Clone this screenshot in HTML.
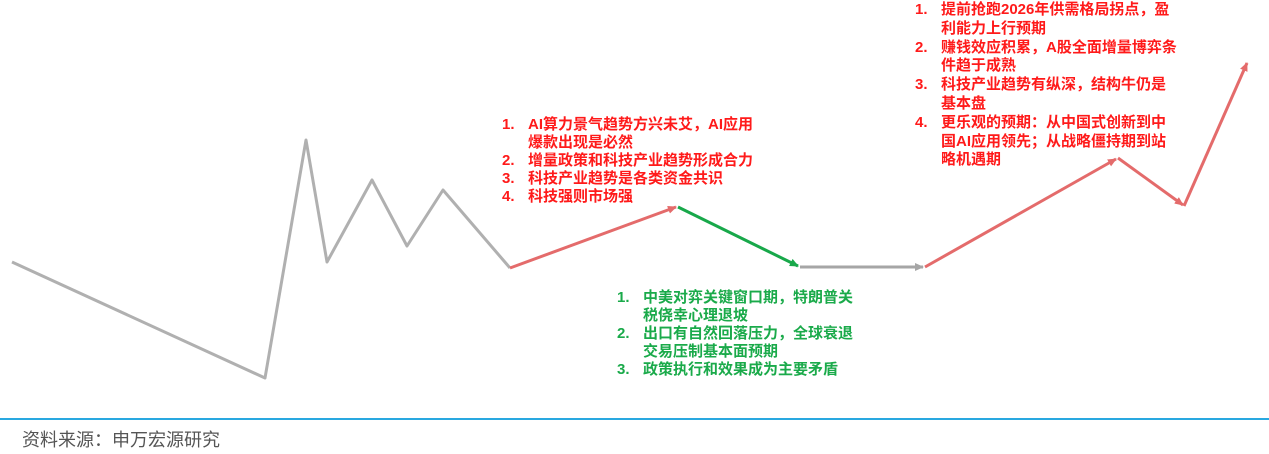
<!DOCTYPE html>
<html><head><meta charset="utf-8"><style>
html,body{margin:0;padding:0;background:#fff;}
body{width:1269px;height:454px;overflow:hidden;position:relative;font-family:"Liberation Sans","Noto Sans CJK SC",sans-serif;}
.blk{position:absolute;font-weight:bold;font-size:15px;line-height:18px;white-space:nowrap;}
.blk div{position:relative;padding-left:26px;}
.blk span{position:absolute;left:0;}
.r{color:#ff1a1a}.g{color:#1aaa4a}
</style></head><body>
<svg width="1269" height="454" style="position:absolute;left:0;top:0">
<defs>
<marker id="ar" markerWidth="10" markerHeight="10" refX="8" refY="5" orient="auto" markerUnits="userSpaceOnUse"><path d="M0,1 L9,5 L0,9 z" fill="#e46b6b"/></marker>
<marker id="ag" markerWidth="10" markerHeight="10" refX="8" refY="5" orient="auto" markerUnits="userSpaceOnUse"><path d="M0,1 L9,5 L0,9 z" fill="#18a84a"/></marker>
<marker id="ay" markerWidth="10" markerHeight="10" refX="8" refY="5" orient="auto" markerUnits="userSpaceOnUse"><path d="M0,1 L9,5 L0,9 z" fill="#a6a6a6"/></marker>
</defs>
<polyline points="12,262 265,378 306,140 327,262 372,180 407,246 443,190 510,268" fill="none" stroke="#b0b0b0" stroke-width="3" stroke-linejoin="round"/>
<line x1="510" y1="268" x2="676" y2="207" stroke="#e46b6b" stroke-width="3" marker-end="url(#ar)"/>
<line x1="678" y1="207" x2="798" y2="266" stroke="#18a84a" stroke-width="3" marker-end="url(#ag)"/>
<line x1="800" y1="267" x2="923" y2="267" stroke="#a6a6a6" stroke-width="3" marker-end="url(#ay)"/>
<line x1="925" y1="267" x2="1116" y2="159" stroke="#e46b6b" stroke-width="3" marker-end="url(#ar)"/>
<line x1="1118" y1="158" x2="1183" y2="205" stroke="#e46b6b" stroke-width="3" marker-end="url(#ar)"/>
<line x1="1184" y1="206" x2="1247" y2="63" stroke="#e46b6b" stroke-width="3" marker-end="url(#ar)"/>
<line x1="0" y1="419" x2="1269" y2="419" stroke="#29a8e0" stroke-width="2"/>
</svg>
<div class="blk r" style="left:502px;top:116px;">
<div><span>1.</span>AI算力景气趋势方兴未艾，AI应用<br>爆款出现是必然</div>
<div><span>2.</span>增量政策和科技产业趋势形成合力</div>
<div><span>3.</span>科技产业趋势是各类资金共识</div>
<div><span>4.</span>科技强则市场强</div>
</div>
<div class="blk g" style="left:617px;top:289px;">
<div><span>1.</span>中美对弈关键窗口期，特朗普关<br>税侥幸心理退坡</div>
<div><span>2.</span>出口有自然回落压力，全球衰退<br>交易压制基本面预期</div>
<div><span>3.</span>政策执行和效果成为主要矛盾</div>
</div>
<div class="blk r" style="left:915px;top:1px;line-height:18.8px;">
<div><span>1.</span>提前抢跑2026年供需格局拐点，盈<br>利能力上行预期</div>
<div><span>2.</span>赚钱效应积累，A股全面增量博弈条<br>件趋于成熟</div>
<div><span>3.</span>科技产业趋势有纵深，结构牛仍是<br>基本盘</div>
<div><span>4.</span>更乐观的预期：从中国式创新到中<br>国AI应用领先；从战略僵持期到站<br>略机遇期</div>
</div>
<div style="position:absolute;left:22px;top:426px;font-size:18px;color:#555;">资料来源：申万宏源研究</div>
</body></html>
